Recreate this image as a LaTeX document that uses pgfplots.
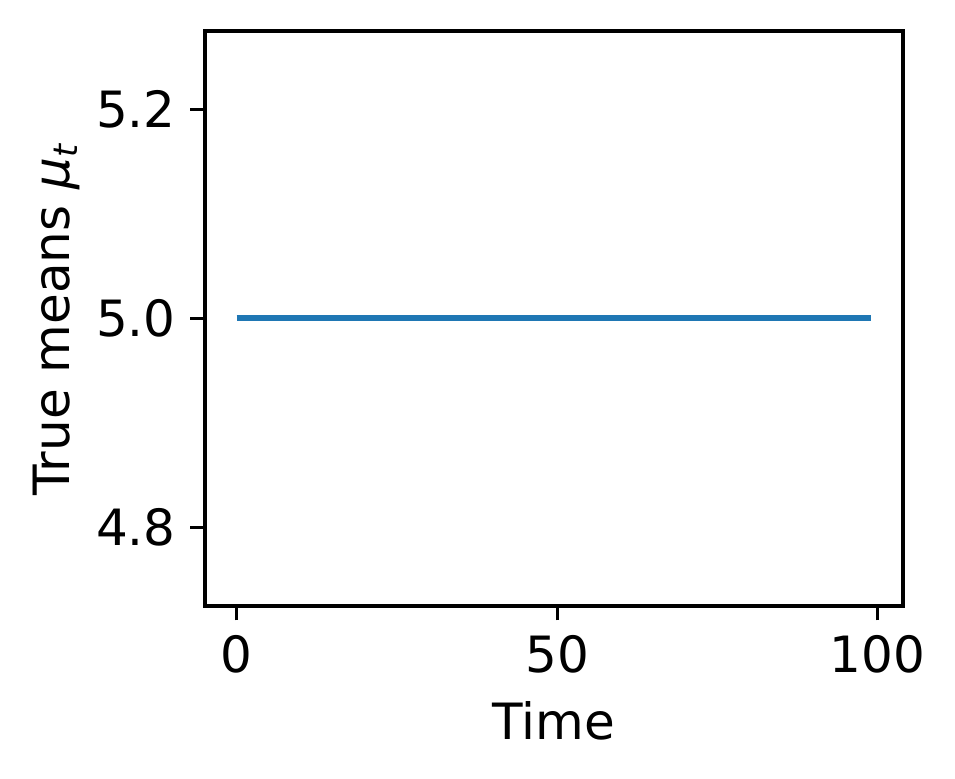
\documentclass[border=0pt]{standalone}
\usepackage{fontspec}
\setmainfont{DejaVu Sans}
\usepackage{pgfplots}
\pgfplotsset{compat=1.18}
\definecolor{mplblue}{HTML}{1F77B4}
\begin{document}
\begin{tikzpicture}
\begin{axis}[
  scale only axis,
  width=167.5pt, height=138pt,
  xmin=-4.95, xmax=103.95,
  ymin=4.725, ymax=5.275,
  xtick={0,50,100}, ytick={4.8,5.0,5.2},
  yticklabel style={/pgf/number format/fixed,/pgf/number format/fixed zerofill,/pgf/number format/precision=1},
  /pgf/number format/assume math mode=true,
  tick align=outside, tick pos=left,
  major tick length=3.5pt,
  every tick/.style={black, line width=0.8pt},
  axis line style={line width=0.8pt},
  font=\fontsize{12}{14}\selectfont,
  ticklabel style={font=\fontsize{12}{14}\selectfont},
  xlabel={Time},
  ylabel={True means \textit{μ}\textsubscript{\textit{t}}},
  label style={font=\fontsize{12}{14}\selectfont},
  ylabel style={yshift=-3pt},
]
\addplot[mplblue, line width=1.5pt] coordinates {(0,5.0) (99,5.0)};
\end{axis}
\pgfresetboundingbox
\path (-49.2pt,-41.5pt) rectangle (180pt,145.4pt);
\end{tikzpicture}
\end{document}
